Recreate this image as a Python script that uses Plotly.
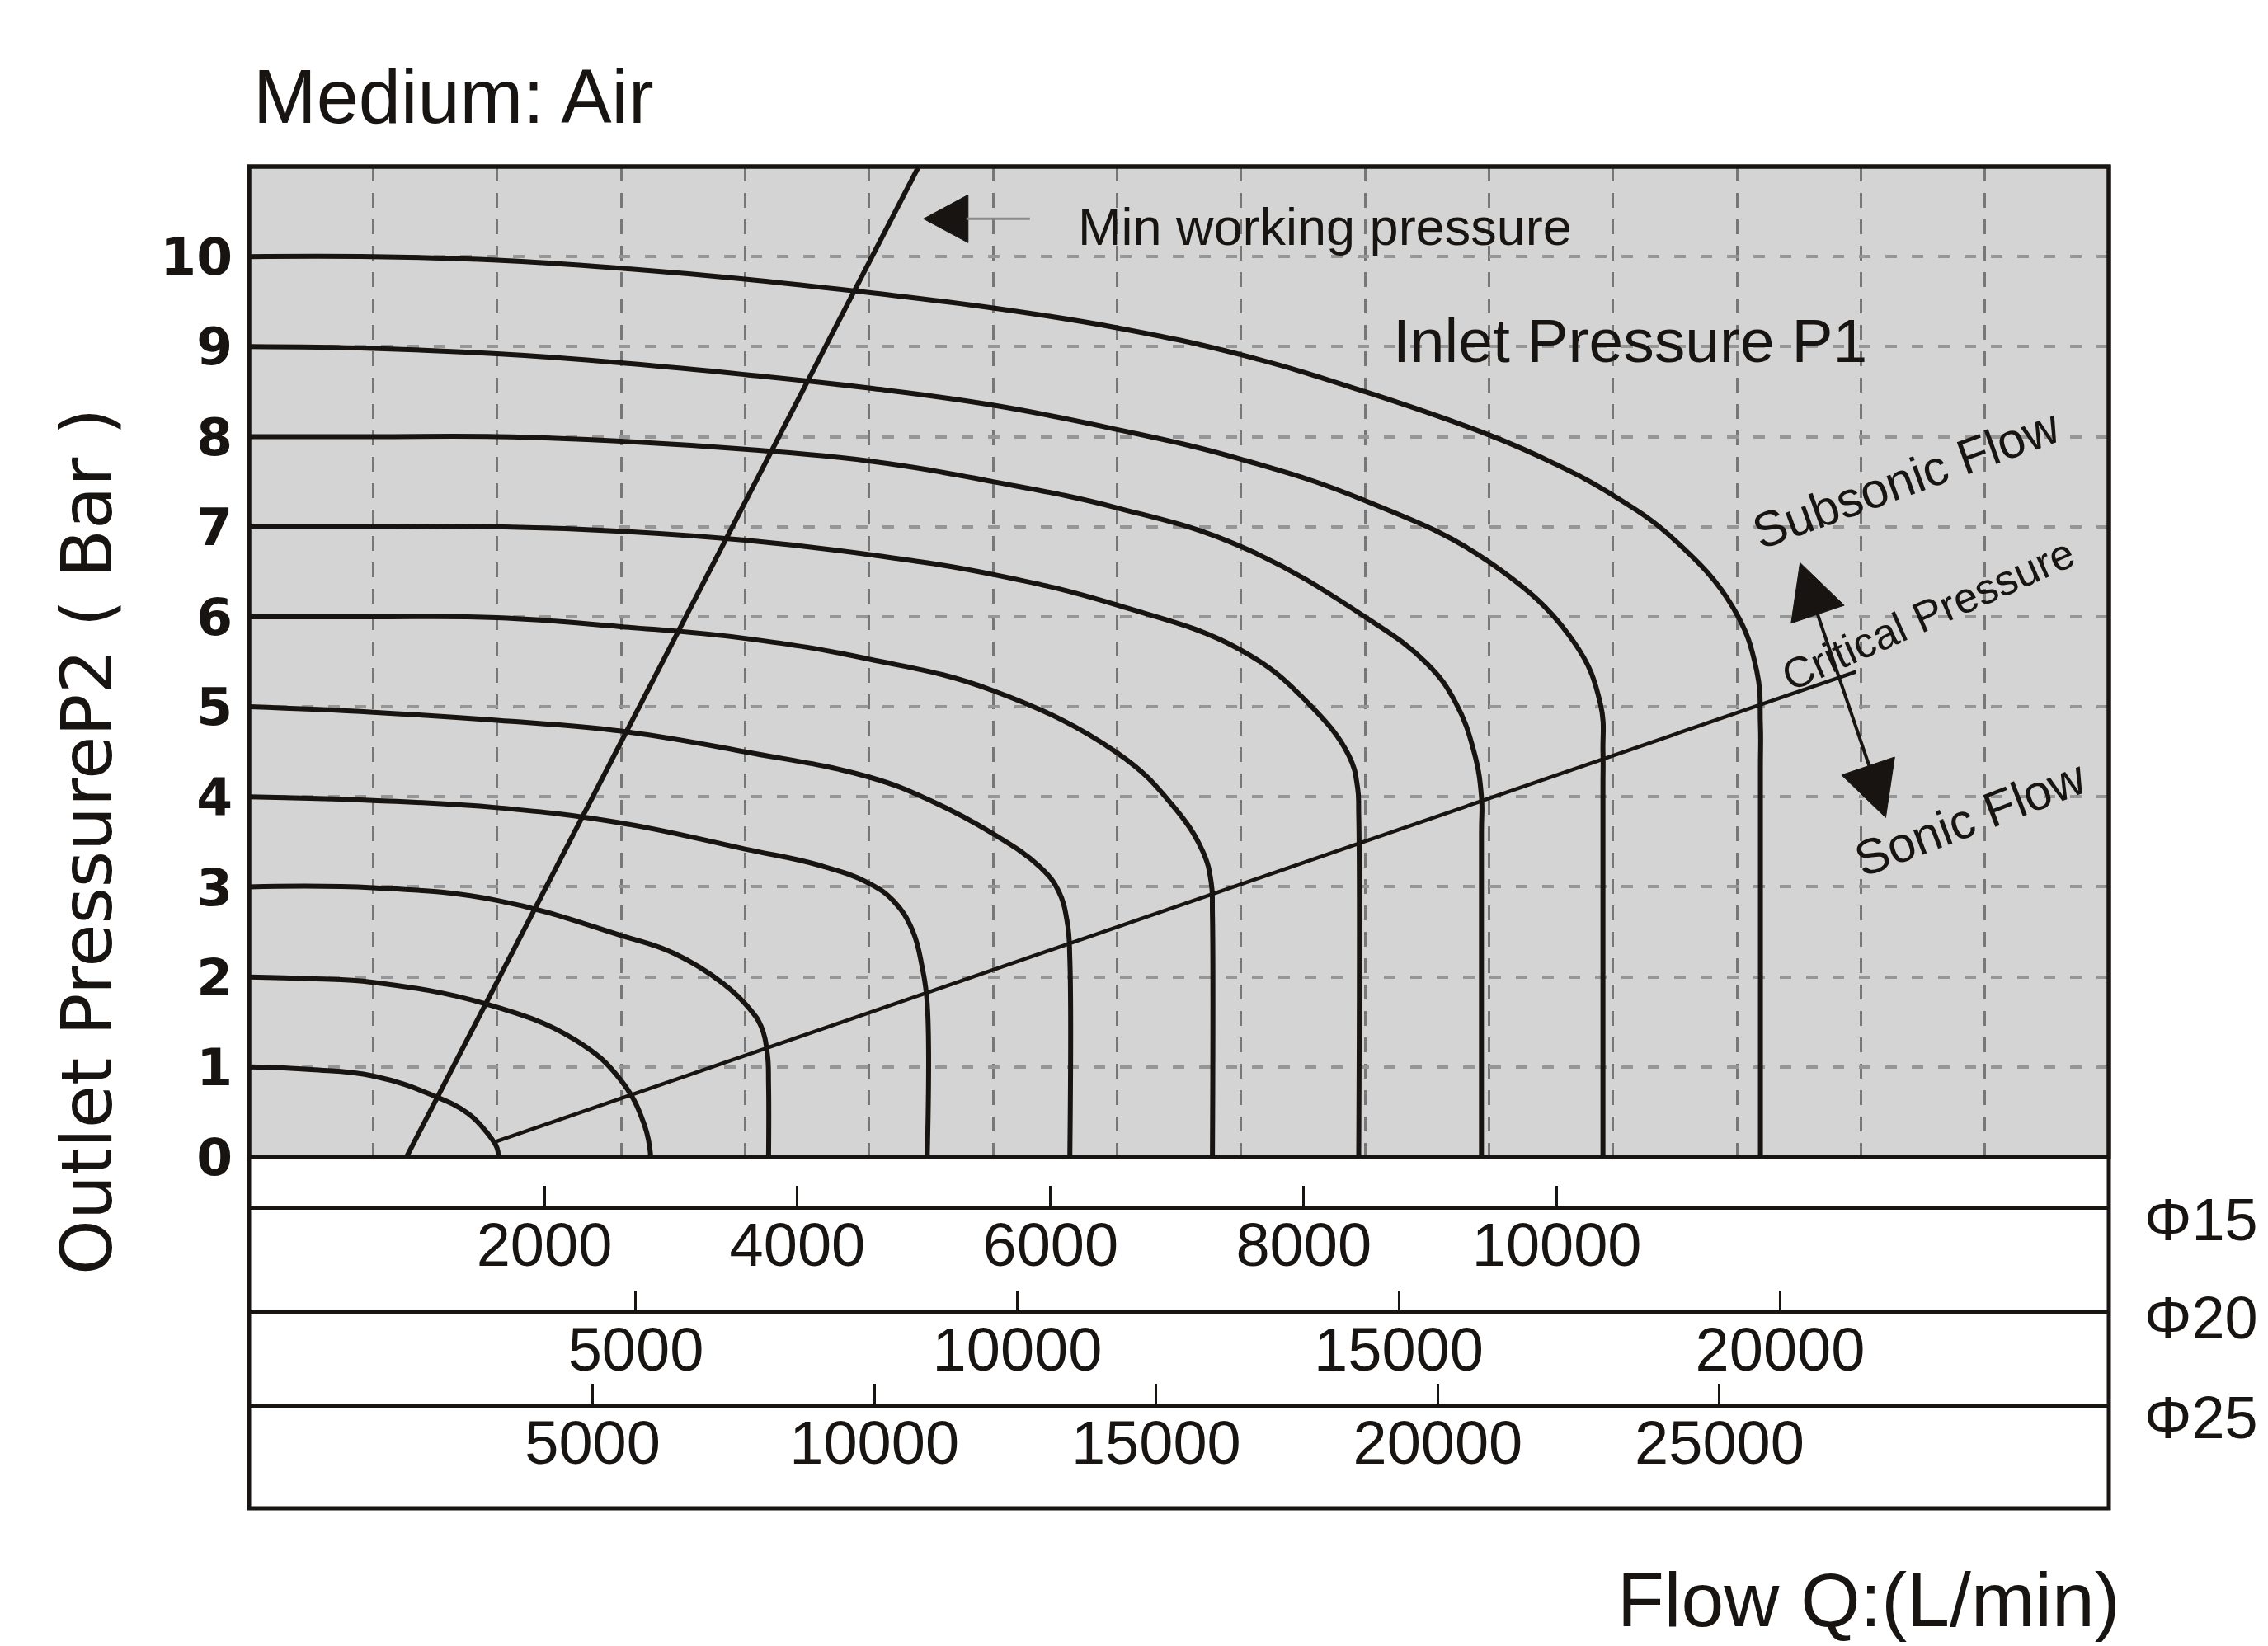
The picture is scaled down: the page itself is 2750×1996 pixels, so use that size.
import plotly.graph_objects as go

# ---------------- DATA ----------------
# Main chart: flow position in chart grid divisions (0-15), outlet pressure P2 (bar)
inlet_p1 = [1, 2, 3, 4, 5, 6, 7, 8, 9, 10]

flow_p1_1 = [0, 0.5, 1.0, 1.49, 1.77, 1.93, 2.0, 2.01]
p2_p1_1 = [1.0, 0.97, 0.90, 0.68, 0.48, 0.25, 0.10, 0.0]

flow_p1_2 = [0, 0.5, 1.0, 1.91, 2.63, 3.0, 3.19, 3.24]
p2_p1_2 = [2.0, 1.98, 1.94, 1.70, 1.30, 0.85, 0.35, 0.0]

flow_p1_3 = [0, 1, 2, 3, 3.43, 3.83, 4.04, 4.13, 4.18, 4.19, 4.19]
p2_p1_3 = [3.0, 2.99, 2.85, 2.46, 2.26, 1.92, 1.64, 1.45, 1.15, 0.8, 0.0]

flow_p1_4 = [0, 1, 2, 3, 4, 4.6, 5.0, 5.2, 5.35, 5.43, 5.47, 5.47]
p2_p1_4 = [4.0, 3.96, 3.88, 3.71, 3.42, 3.24, 3.04, 2.84, 2.52, 2.10, 1.70, 0.0]

flow_p1_5 = [0, 1, 2, 3, 4, 5, 5.51, 6, 6.38, 6.53, 6.60, 6.62, 6.62]
p2_p1_5 = [5.0, 4.94, 4.85, 4.73, 4.50, 4.22, 3.95, 3.59, 3.22, 2.95, 2.60, 2.2, 0.0]

flow_p1_6 = [0, 1, 2, 3, 4, 5, 6, 7, 7.44, 7.69, 7.76, 7.77, 7.77]
p2_p1_6 = [6.0, 6.0, 5.99, 5.89, 5.76, 5.53, 5.18, 4.49, 3.92, 3.40, 3.05, 2.7, 0.0]

flow_p1_7 = [0, 1, 2, 3, 4, 5, 6, 7, 8, 8.55, 8.87, 8.94, 8.95, 8.95]
p2_p1_7 = [7.0, 7.0, 7.0, 6.95, 6.85, 6.69, 6.47, 6.13, 5.63, 5.03, 4.46, 4.11, 3.8, 0.0]

flow_p1_8 = [0, 1, 2, 3, 4, 5, 6, 7, 8, 9, 9.5, 9.73, 9.88, 9.94, 9.94, 9.94]
p2_p1_8 = [8.0, 8.0, 8.0, 7.95, 7.86, 7.73, 7.50, 7.21, 6.78, 6.0, 5.48, 5.05, 4.5, 4.0, 3.6, 0.0]

flow_p1_9 = [0, 1, 2, 3, 4, 5, 6, 7, 8, 9, 10, 10.68, 10.9, 10.92, 10.92, 10.92]
p2_p1_9 = [9.0, 8.98, 8.92, 8.82, 8.69, 8.54, 8.35, 8.08, 7.75, 7.29, 6.61, 5.73, 5.03, 4.5, 4.1, 0.0]

flow_p1_10 = [0, 1, 2, 3, 4, 5, 6, 7, 8, 9, 10, 10.5, 11, 11.5, 11.97, 12.16, 12.19, 12.19, 12.19]
p2_p1_10 = [10.0, 10.0, 9.96, 9.87, 9.75, 9.60, 9.43, 9.21, 8.91, 8.50, 8.02, 7.72, 7.35, 6.85, 6.10, 5.40, 4.8, 4.3, 0.0]

# Critical pressure line and minimum working pressure line
crit_flow = [1.99, 12.96]
crit_p2 = [0.17, 5.39]
minwp_flow = [1.27, 5.40]
minwp_p2 = [0.0, 11.0]

# Axis tick labels
p2_ticks = [0, 1, 2, 3, 4, 5, 6, 7, 8, 9, 10]
phi15_ticks = [2000, 4000, 6000, 8000, 10000]
phi20_ticks = [5000, 10000, 15000, 20000]
phi25_ticks = [5000, 10000, 15000, 20000, 25000]
scale_names = ["Φ15", "Φ20", "Φ25"]

# ---------------- FIGURE ----------------
W, H = 2750, 1996
OFF = 8                      # page body margin of the html page
PLOT_L, PLOT_T = 302, 202    # wanted plot-area corner on screen
PW, PH = 2255, 1627          # wanted plot-area size (incl. lower scale band)
ML, MT = PLOT_L - OFF, PLOT_T - OFF
MR = W - ML - PW
MB = H - MT - PH


def pyf(px):  # screen pixel row -> paper fraction
    return (PLOT_T + PH - px) / PH


def pxf(px):  # screen pixel column -> paper fraction
    return (px - PLOT_L) / PW


INK = "#171411"
SANS = "Liberation Sans, Arial, sans-serif"

curves = [
    (flow_p1_1, p2_p1_1), (flow_p1_2, p2_p1_2), (flow_p1_3, p2_p1_3),
    (flow_p1_4, p2_p1_4), (flow_p1_5, p2_p1_5), (flow_p1_6, p2_p1_6),
    (flow_p1_7, p2_p1_7), (flow_p1_8, p2_p1_8), (flow_p1_9, p2_p1_9),
    (flow_p1_10, p2_p1_10),
]

fig = go.Figure()

for p1, (xs, ys) in zip(inlet_p1, curves):
    fig.add_trace(go.Scatter(
        x=xs, y=ys, mode="lines", name=f"P1={p1}",
        line=dict(color=INK, width=6, shape="spline", smoothing=1.2),
        showlegend=False, hoverinfo="skip"))

fig.add_trace(go.Scatter(x=minwp_flow, y=minwp_p2, mode="lines",
                         line=dict(color=INK, width=6), showlegend=False, hoverinfo="skip"))
fig.add_trace(go.Scatter(x=crit_flow, y=crit_p2, mode="lines",
                         line=dict(color=INK, width=4.5), showlegend=False, hoverinfo="skip"))

for ax in ["x2", "x3", "x4"]:
    fig.add_trace(go.Scatter(x=[None], y=[None], xaxis=ax, yaxis="y",
                             showlegend=False, hoverinfo="skip"))

main_bottom = pyf(1403)

scale_axis = dict(
    overlaying="x", anchor="free", side="bottom",
    showgrid=False, zeroline=False,
    showline=True, linecolor=INK, linewidth=5,
    ticks="inside", ticklen=24, tickwidth=3, tickcolor=INK,
    tickfont=dict(family=SANS, size=74, color=INK),
    ticklabelstandoff=-21, fixedrange=True,
)

fig.update_layout(
    width=W, height=H,
    margin=dict(l=ML, r=MR, t=MT, b=MB, pad=0),
    paper_bgcolor="white", plot_bgcolor="#d4d4d4",
    showlegend=False, hovermode=False,
    xaxis=dict(domain=[0, 1], range=[0, 15], tickmode="array",
               tickvals=list(range(1, 15)), showticklabels=False, ticks="",
               showgrid=True, gridcolor="#777777", gridwidth=2.5, griddash="18px,14px",
               zeroline=False, showline=False, fixedrange=True),
    yaxis=dict(domain=[main_bottom, 1], range=[0, 11.0], tickmode="array",
               tickvals=p2_ticks, ticktext=[str(t) for t in p2_ticks],
               tickfont=dict(family="DejaVu Sans", size=63, color=INK, weight="bold"),
               ticklabelstandoff=19, ticks="",
               showgrid=True, gridcolor="#969696", gridwidth=3.5, griddash="14px,18px",
               zeroline=False, showline=False, fixedrange=True),
    xaxis2=dict(scale_axis, position=pyf(1464), range=[-333, 14362],
                tickmode="array", tickvals=phi15_ticks, ticktext=[str(t) for t in phi15_ticks]),
    xaxis3=dict(scale_axis, position=pyf(1591), range=[-70, 24308],
                tickmode="array", tickvals=phi20_ticks, ticktext=[str(t) for t in phi20_ticks]),
    xaxis4=dict(scale_axis, position=pyf(1704), range=[-1098, 31909],
                tickmode="array", tickvals=phi25_ticks, ticktext=[str(t) for t in phi25_ticks]),
)

shapes = [
    # frame of the whole chart and of the pressure field
    dict(type="rect", xref="paper", yref="paper", x0=0, x1=1, y0=0, y1=1,
         line=dict(color=INK, width=5), layer="above"),
    dict(type="rect", xref="paper", yref="paper", x0=0, x1=1, y0=main_bottom, y1=1,
         line=dict(color=INK, width=5), layer="above"),
    # min working pressure pointer
    dict(type="path", xref="x", yref="y", xsizemode="pixel", ysizemode="pixel",
         xanchor=5.44, yanchor=10.42, path="M0,0 L54,29 L54,-29 Z",
         fillcolor=INK, line=dict(color=INK, width=1)),
    dict(type="line", xref="x", yref="y", xsizemode="pixel", ysizemode="pixel",
         xanchor=5.44, yanchor=10.42, x0=52, x1=129, y0=0, y1=0,
         line=dict(color="#8a8a8a", width=3)),
    # subsonic / sonic double arrow
    dict(type="line", xref="x", yref="y", xsizemode="pixel", ysizemode="pixel",
         xanchor=12.51, yanchor=6.60, x0=21, y0=-62, x1=84, y1=-247,
         line=dict(color=INK, width=4)),
    dict(type="path", xref="x", yref="y", xsizemode="pixel", ysizemode="pixel",
         xanchor=12.51, yanchor=6.60, path="M0,0 L53.5,-51.6 L-10.9,-73.4 Z",
         fillcolor=INK, line=dict(color=INK, width=1)),
    dict(type="path", xref="x", yref="y", xsizemode="pixel", ysizemode="pixel",
         xanchor=13.20, yanchor=3.77, path="M0,0 L10.9,73.4 L-53.5,51.6 Z",
         fillcolor=INK, line=dict(color=INK, width=1)),
]
fig.update_layout(shapes=shapes)

ann = []


def text(t, x, y, size, xref="x", yref="y", xanchor="center", yanchor="middle", angle=0,
         family=SANS):
    ann.append(dict(text=t, x=x, y=y, xref=xref, yref=yref, xanchor=xanchor,
                    yanchor=yanchor, textangle=angle, showarrow=False,
                    font=dict(family=family, size=size, color=INK)))


text("Medium: Air", pxf(305), pyf(117), 92, "paper", "paper", xanchor="left")
text("Flow Q:(L/min)", pxf(2573), pyf(1940), 93, "paper", "paper", xanchor="right")
text("Outlet PressureP2 ( Bar )", pxf(105), pyf(1021), 85, "paper", "paper", angle=-90,
     family="DejaVu Sans, sans-serif")
for name, row in zip(scale_names, [1479, 1598, 1719]):
    text(name, pxf(2598), pyf(row), 72, "paper", "paper", xanchor="left")

text("Min working pressure", 8.68, 10.33, 63)
text("Inlet Pressure P1", 11.14, 9.07, 75)
text("Subsonic Flow", 13.37, 7.53, 60, angle=-20)
text("Critical Pressure", 13.54, 6.03, 52, angle=-24)
text("Sonic Flow", 13.88, 3.76, 60, angle=-21)

fig.update_layout(annotations=ann)

fig.write_html("out.html")
